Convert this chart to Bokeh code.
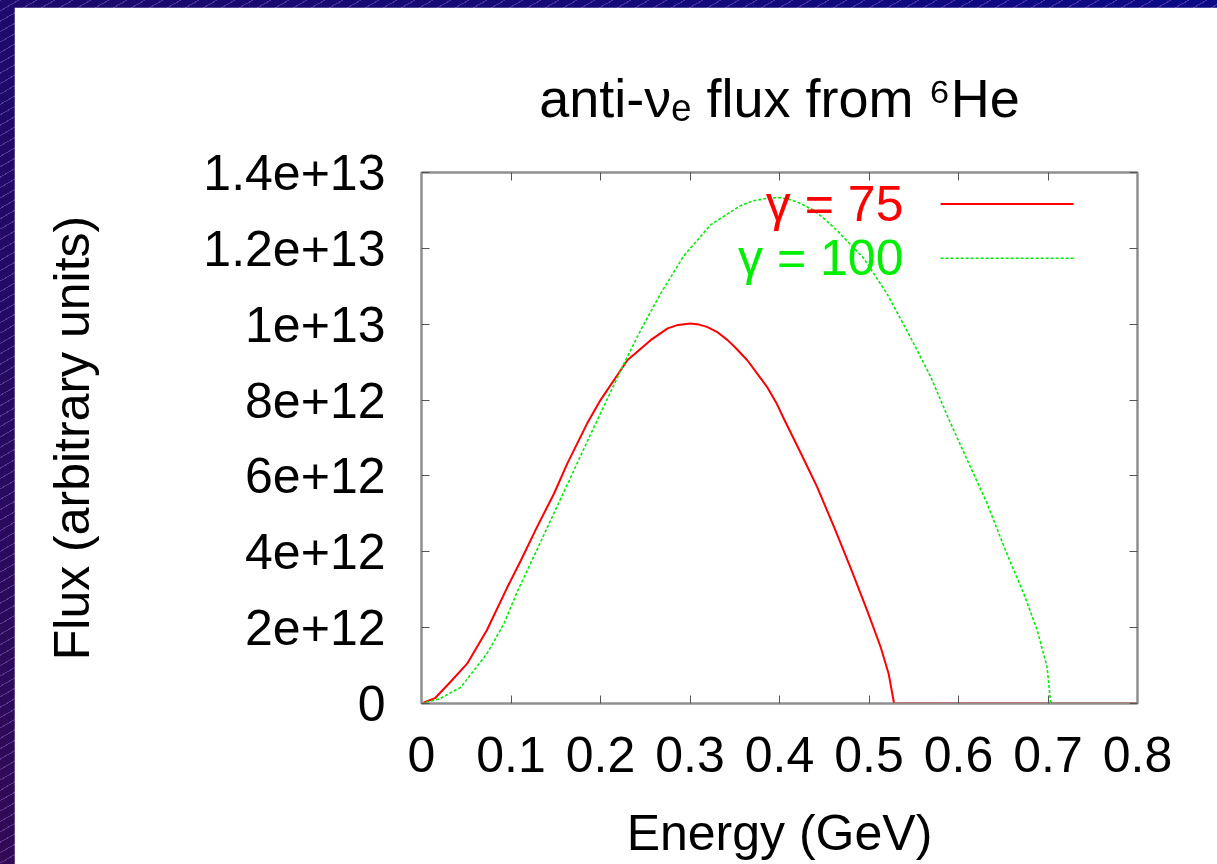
from bokeh.plotting import figure
from bokeh.models import FixedTicker, Label, Arrow, LinearAxis, Range1d
from bokeh.layouts import column
from bokeh.embed import file_html
from bokeh.resources import INLINE

# Flux values are given in units of 1e12 (arbitrary units)
FLUX_UNIT = 1e12

# gamma = 75 beam
energy_g75 = [0.0, 0.015, 0.032, 0.051, 0.073, 0.096, 0.111, 0.129, 0.148, 0.163,
              0.185, 0.200, 0.230, 0.256, 0.275, 0.285, 0.300, 0.310, 0.319, 0.330,
              0.342, 0.350, 0.364, 0.386, 0.397, 0.405, 0.424, 0.442, 0.461, 0.479,
              0.498, 0.513, 0.522, 0.528, 0.600, 0.700, 0.800]
flux_g75 = [0.0, 0.14, 0.56, 1.05, 1.93, 3.07, 3.77, 4.65, 5.53, 6.33,
            7.38, 8.00, 9.05, 9.58, 9.89, 9.97, 10.02, 9.99, 9.93, 9.80,
            9.58, 9.40, 9.05, 8.35, 7.90, 7.50, 6.59, 5.71, 4.65, 3.60,
            2.45, 1.49, 0.78, 0.0, 0.0, 0.0, 0.0]

# gamma = 100 beam
energy_g100 = [0.0, 0.020, 0.044, 0.073, 0.092, 0.107, 0.129, 0.148, 0.170, 0.185,
               0.207, 0.226, 0.245, 0.267, 0.293, 0.323, 0.356, 0.370, 0.386, 0.400,
               0.409, 0.420, 0.438, 0.450, 0.464, 0.494, 0.520, 0.546, 0.569, 0.590,
               0.610, 0.632, 0.654, 0.673, 0.688, 0.699, 0.703, 0.750, 0.800]
flux_g100 = [0.0, 0.12, 0.43, 1.31, 2.10, 2.95, 4.05, 5.02, 6.13, 6.90,
             8.00, 8.95, 9.85, 10.80, 11.80, 12.62, 13.12, 13.25, 13.32, 13.34,
             13.30, 13.22, 13.01, 12.78, 12.48, 11.74, 10.81, 9.67, 8.61, 7.45,
             6.41, 5.27, 3.95, 2.89, 1.93, 0.96, 0.0, 0.0, 0.0]

series_names = ["\u03b3 = 75", "\u03b3 = 100"]
series_colors = ["#ff0000", "#00ee00"]

x_ticks = [0.0, 0.1, 0.2, 0.3, 0.4, 0.5, 0.6, 0.7, 0.8]
x_tick_labels = ["0", "0.1", "0.2", "0.3", "0.4", "0.5", "0.6", "0.7", "0.8"]
y_ticks = [0, 2e12, 4e12, 6e12, 8e12, 1e13, 1.2e13, 1.4e13]
y_tick_labels = ["0", "2e+12", "4e+12", "6e+12", "8e+12", "1e+13", "1.2e+13", "1.4e+13"]

title_text = "anti-\u03bd\u2091 flux from \u2076He"
x_label = "Energy (GeV)"
y_label = "Flux (arbitrary units)"

FONT = "Liberation Sans"
FONT_SIZE = "50px"
AXIS_GREY = "#8f8f8f"
TICK_COLOR = "#555555"

p = figure(
    width=1203, height=857,
    x_range=Range1d(0, 0.8), y_range=Range1d(0, 1.4e13),
    output_backend="svg", toolbar_location=None,
    title=title_text,
    x_axis_label=x_label, y_axis_label=y_label,
    min_border_left=407, min_border_right=80,
    min_border_top=165, min_border_bottom=161,
    background_fill_color="white", border_fill_color="white",
)
p.margin = (7, 0, 0, 14)
p.grid.visible = False
p.outline_line_color = AXIS_GREY
p.outline_line_width = 2

p.title.align = "center"
p.title.text_font = FONT
p.title.text_font_size = "54px"
p.title.text_font_style = "normal"
p.title.text_color = "black"
p.title.standoff = 89


def style_labelled_axis(ax, ticks, labels):
    ax.ticker = FixedTicker(ticks=ticks)
    ax.major_label_overrides = {t: lab for t, lab in zip(ticks, labels)}
    ax.axis_line_color = AXIS_GREY
    ax.axis_line_width = 2
    ax.major_tick_line_color = TICK_COLOR
    ax.major_tick_line_width = 1
    ax.major_tick_in = 8
    ax.major_tick_out = 0
    ax.minor_tick_line_color = None
    ax.major_label_text_font = FONT
    ax.major_label_text_font_size = FONT_SIZE
    ax.major_label_text_color = "black"
    ax.axis_label_text_font = FONT
    ax.axis_label_text_font_size = FONT_SIZE
    ax.axis_label_text_font_style = "normal"
    ax.axis_label_text_color = "black"


def mirror_axis(ticks):
    # tick marks only, no labels
    ax = LinearAxis(ticker=FixedTicker(ticks=[], minor_ticks=ticks))
    ax.axis_line_color = AXIS_GREY
    ax.axis_line_width = 2
    ax.major_tick_line_color = None
    ax.minor_tick_line_color = TICK_COLOR
    ax.minor_tick_line_width = 1
    ax.minor_tick_in = 8
    ax.minor_tick_out = 0
    ax.major_label_standoff = 0
    return ax


style_labelled_axis(p.xaxis[0], x_ticks, x_tick_labels)
p.xaxis[0].major_label_standoff = 33
p.xaxis[0].axis_label_standoff = 30

style_labelled_axis(p.yaxis[0], y_ticks, y_tick_labels)
p.yaxis[0].major_label_standoff = 36
p.yaxis[0].axis_label_standoff = 100

p.add_layout(mirror_axis(x_ticks), "above")
p.add_layout(mirror_axis(y_ticks), "right")

# Spectra
p.line(energy_g75, [f * FLUX_UNIT for f in flux_g75],
       line_color=series_colors[0], line_width=2, line_join="round")
p.line(energy_g100, [f * FLUX_UNIT for f in flux_g100],
       line_color=series_colors[1], line_width=1.6, line_dash="3 2", line_join="round")

# Key: text on the left, line sample on the right
LEGEND_TEXT_X = 0.5385
LEGEND_KEY_X = (0.580, 0.7285)
LEGEND_ROWS_Y = (13.17e12, 11.74e12)
LEGEND_DASHES = ("solid", "3 2")
LEGEND_WIDTHS = (2, 1.6)

for name, color, row_y, dash, lw in zip(series_names, series_colors, LEGEND_ROWS_Y,
                                        LEGEND_DASHES, LEGEND_WIDTHS):
    p.add_layout(Label(x=LEGEND_TEXT_X, y=row_y, text=name,
                       text_align="right", text_baseline="middle",
                       text_color=color, text_font=FONT, text_font_size=FONT_SIZE))
    p.add_layout(Arrow(end=None, x_start=LEGEND_KEY_X[0], y_start=row_y,
                       x_end=LEGEND_KEY_X[1], y_end=row_y,
                       line_color=color, line_width=lw, line_dash=dash))

page = column(
    p, width=1217, height=864,
    styles={
        "background": (
            "repeating-linear-gradient(150deg, rgba(150,110,215,0.45) 0px, "
            "rgba(150,110,215,0.45) 1px, transparent 1px, transparent 9px), "
            "linear-gradient(to top right, #320a56, #1c0a6c 50%, #0c0a86)"
        ),
    },
)

open("out.html", "w").write(file_html(page, INLINE))
